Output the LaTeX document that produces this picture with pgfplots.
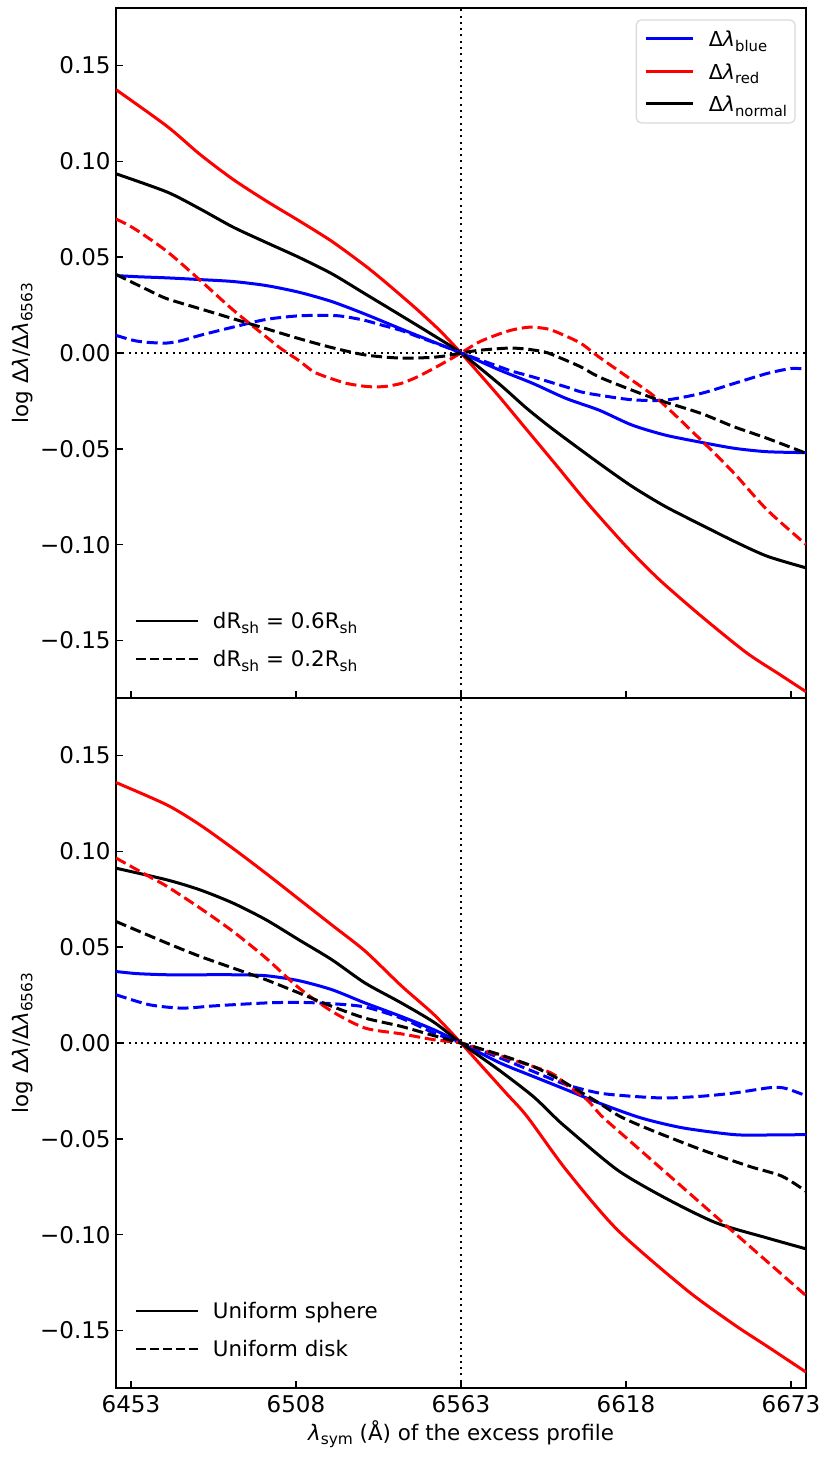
\documentclass[border=0pt]{standalone}
\usepackage{fontspec}
\setmainfont{DejaVu Sans}
\usepackage{pgfplots}
\pgfplotsset{compat=1.18}
\newcommand{\lam}{\textit{λ}}
\newcommand{\sub}[1]{\raisebox{-0.2em}{\scalebox{0.72}{#1}}}

\pgfplotsset{
  panel/.style={
    scale only axis, width=345pt, height=345pt,
    xmin=6448, xmax=6678, ymin=-0.18, ymax=0.18,
    xtick={6453,6508,6563,6618,6673},
    ytick={-0.15,-0.1,-0.05,0,0.05,0.1,0.15},
    yticklabels={−0.15,−0.10,−0.05,0.00,0.05,0.10,0.15},
    tick align=inside, tick pos=left,
    major tick length=3.4pt,
    every tick/.style={black, line width=0.8pt},
    axis line style={line width=0.6pt},
    ticklabel style={font=\fontsize{11.5}{13}\selectfont},
    yticklabel style={inner xsep=2.5pt},
    ylabel={log Δ\lam/Δ\lam\sub{6563}},
    ylabel style={at={(axis description cs:-0.1275,0.5)}, anchor=base, font=\fontsize{10.7}{12}\selectfont},
  },
  lblue/.style={blue, line width=1.5pt, smooth, tension=0.45},
  lred/.style={red, line width=1.5pt, smooth, tension=0.45},
  lblack/.style={black, line width=1.5pt, smooth, tension=0.45},
  dsh/.style={dash pattern=on 5.5pt off 2.4pt},
  refline/.style={black, line width=1pt, dash pattern=on 1pt off 2.15pt, forget plot},
  leg2/.style={
    scale only axis, width=345pt, height=345pt, hide axis,
    xmin=0, xmax=1, ymin=0, ymax=1,
    legend style={at={(axis description cs:0,0)}, anchor=south west, draw=none, fill=none,
      inner xsep=9.5pt, inner ysep=15.35pt, row sep=11pt,
      font=\fontsize{10.7}{12}\selectfont,
      nodes={inner sep=0pt, text height=8pt, text depth=0pt}, cells={anchor=west}},
    legend image code/.code={\draw[##1] (0pt,0pt) -- (31pt,0pt); \path[draw=none,fill=none] (0pt,0pt) -- (38.3pt,0pt);},
  },
}

\begin{document}
\begin{tikzpicture}
% ---------------- top panel ----------------
\begin{axis}[panel, at={(0pt,345pt)}, anchor=south west, xticklabels={},
  legend style={at={(axis description cs:0.985,0.9836)}, anchor=north east,
    draw=black!15, line width=0.6pt, rounded corners=2.5pt, fill=white,
    inner xsep=4pt, inner ysep=5.5pt, row sep=8.25pt,
    font=\fontsize{10.3}{12}\selectfont,
    nodes={inner sep=0pt, text height=8pt, text depth=0pt}, cells={anchor=west}},
  legend image code/.code={\draw[#1] (0pt,0pt) -- (23.5pt,0pt); \path[draw=none,fill=none] (0pt,0pt) -- (31.5pt,0pt);},
]
\addplot[refline] coordinates {(6448,0) (6678,0)};
\addplot[refline] coordinates {(6563,-0.18) (6563,0.18)};

\addplot[lblue] coordinates {(6448,0.0404) (6455,0.0398) (6465,0.0392) (6476,0.0383) (6487,0.0373) (6498,0.0352) (6509,0.0317) (6520,0.0268) (6531,0.0203) (6542,0.0132) (6553,0.0063) (6563,0) (6576,-0.0090) (6587,-0.0159) (6598,-0.0237) (6609,-0.0298) (6620,-0.0376) (6631,-0.0428) (6642,-0.0463) (6654,-0.0497) (6665,-0.0515) (6678,-0.0520)};
\addlegendentry{Δ\lam\sub{blue}}
\addplot[lred] coordinates {(6448,0.1374) (6465,0.1183) (6476,0.1036) (6487,0.0906) (6498,0.0794) (6509,0.0690) (6520,0.0582) (6531,0.0456) (6537,0.0380) (6543,0.0300) (6549,0.0218) (6556,0.0116) (6563,0) (6575,-0.0214) (6585,-0.0402) (6595,-0.0590) (6605,-0.0780) (6618,-0.1008) (6629,-0.1181) (6643,-0.1372) (6658,-0.1562) (6669,-0.1675) (6678,-0.1767)};
\addlegendentry{Δ\lam\sub{red}}
\addplot[lblack] coordinates {(6448,0.0935) (6465,0.0840) (6476,0.0752) (6487,0.0657) (6498,0.0577) (6509,0.0499) (6520,0.0413) (6531,0.0309) (6542,0.0205) (6553,0.0100) (6563,0) (6576,-0.0165) (6585,-0.0290) (6594,-0.0402) (6609,-0.0575) (6620,-0.0696) (6631,-0.0800) (6643,-0.0896) (6654,-0.0982) (6665,-0.1060) (6678,-0.1121)};
\addlegendentry{Δ\lam\sub{normal}}

\addplot[lblue, dsh, forget plot] coordinates {(6448,0.0092) (6454,0.0065) (6459,0.0055) (6465,0.0052) (6470,0.0065) (6476,0.0092) (6487,0.0135) (6498,0.0175) (6509,0.0194) (6520,0.0196) (6525,0.0188) (6531,0.0170) (6536,0.0148) (6543,0.0118) (6549,0.0083) (6558,0.0031) (6563,0) (6576,-0.0073) (6580,-0.0095) (6587,-0.0125) (6598,-0.0177) (6603,-0.0203) (6609,-0.0220) (6620,-0.0244) (6631,-0.0246) (6643,-0.0211) (6654,-0.0159) (6665,-0.0107) (6673,-0.0081) (6678,-0.0084)};
\addplot[lred, dsh, forget plot] coordinates {(6448,0.0699) (6454,0.0650) (6465,0.0530) (6476,0.0380) (6487,0.0225) (6498,0.0085) (6503,0.0023) (6509,-0.0040) (6514,-0.0099) (6520,-0.0135) (6525,-0.0159) (6530,-0.0172) (6534,-0.0177) (6538,-0.0174) (6543,-0.0159) (6548,-0.0128) (6553,-0.0088) (6558,-0.0045) (6563,0) (6569,0.0057) (6575,0.0095) (6580,0.0120) (6586,0.0135) (6592,0.0125) (6597,0.0095) (6603,0.0050) (6609,-0.0021) (6620,-0.0142) (6629,-0.0246) (6643,-0.0454) (6654,-0.0627) (6665,-0.0818) (6678,-0.0999)};
\addplot[lblack, dsh, forget plot] coordinates {(6448,0.0410) (6459,0.0326) (6465,0.0283) (6476,0.0231) (6487,0.0179) (6498,0.0127) (6509,0.0075) (6520,0.0028) (6531,-0.0010) (6542,-0.0026) (6552,-0.0024) (6558,-0.0015) (6563,0) (6569,0.0014) (6576,0.0023) (6580,0.0026) (6585,0.0020) (6591,0.0005) (6596,-0.0025) (6603,-0.0073) (6609,-0.0125) (6620,-0.0194) (6629,-0.0246) (6643,-0.0315) (6654,-0.0385) (6665,-0.0445) (6678,-0.0523)};
\end{axis}

\begin{axis}[leg2, at={(0pt,345pt)}, anchor=south west]
\addlegendimage{black, line width=1pt}
\addlegendentry{dR\sub{sh} = 0.6R\sub{sh}}
\addlegendimage{black, line width=1pt, dash pattern=on 4.6pt off 2pt}
\addlegendentry{dR\sub{sh} = 0.2R\sub{sh}}
\end{axis}

% ---------------- bottom panel ----------------
\begin{axis}[panel, at={(0pt,0pt)}, anchor=south west,
  xticklabels={6453,6508,6563,6618,6673},
  xlabel={\lam\sub{sym} (Å) of the excess profile},
  xlabel style={at={(axis description cs:0.5,0)}, anchor=base, yshift=-26.3pt, font=\fontsize{10.7}{12}\selectfont},
]
\addplot[refline] coordinates {(6448,0) (6678,0)};
\addplot[refline] coordinates {(6563,-0.18) (6563,0.18)};

\addplot[lblue] coordinates {(6448,0.0373) (6455,0.0362) (6465,0.0356) (6476,0.0356) (6487,0.0356) (6498,0.0351) (6509,0.0325) (6520,0.0278) (6531,0.0209) (6543,0.0139) (6554,0.0069) (6563,0) (6576,-0.0104) (6587,-0.0174) (6598,-0.0243) (6609,-0.0313) (6623,-0.0391) (6637,-0.0443) (6654,-0.0478) (6665,-0.0480) (6678,-0.0478)};
\addplot[lred] coordinates {(6448,0.1359) (6465,0.1242) (6476,0.1138) (6487,0.1015) (6498,0.0885) (6509,0.0750) (6520,0.0615) (6531,0.0480) (6543,0.0300) (6554,0.0148) (6563,0) (6570,-0.0122) (6578,-0.0261) (6585,-0.0383) (6598,-0.0661) (6615,-0.0973) (6638,-0.1286) (6654,-0.1469) (6665,-0.1582) (6678,-0.1717)};
\addplot[lblack] coordinates {(6448,0.0912) (6465,0.0851) (6476,0.0799) (6487,0.0730) (6498,0.0643) (6509,0.0538) (6520,0.0434) (6531,0.0313) (6543,0.0210) (6554,0.0108) (6563,0) (6576,-0.0145) (6587,-0.0278) (6594,-0.0383) (6598,-0.0440) (6615,-0.0661) (6631,-0.0808) (6648,-0.0938) (6665,-0.1017) (6678,-0.1074)};

\addplot[lblue, dsh] coordinates {(6448,0.0252) (6459,0.0200) (6470,0.0182) (6481,0.0194) (6498,0.0209) (6509,0.0212) (6520,0.0205) (6531,0.0188) (6543,0.0130) (6554,0.0052) (6563,0) (6576,-0.0078) (6587,-0.0148) (6598,-0.0217) (6609,-0.0261) (6620,-0.0278) (6631,-0.0287) (6643,-0.0278) (6654,-0.0261) (6666,-0.0233) (6671,-0.0236) (6678,-0.0275)};
\addplot[lred, dsh] coordinates {(6448,0.0965) (6459,0.0869) (6465,0.0817) (6476,0.0704) (6487,0.0582) (6498,0.0443) (6509,0.0287) (6520,0.0165) (6531,0.0078) (6543,0.0048) (6554,0.0017) (6563,0) (6570,-0.0035) (6580,-0.0087) (6593,-0.0156) (6598,-0.0217) (6605,-0.0296) (6610,-0.0383) (6620,-0.0521) (6640,-0.0796) (6660,-0.1071) (6678,-0.1318)};
\addplot[lblack, dsh] coordinates {(6448,0.0634) (6465,0.0521) (6476,0.0452) (6487,0.0391) (6498,0.0330) (6509,0.0261) (6520,0.0191) (6531,0.0130) (6543,0.0087) (6554,0.0038) (6563,0) (6576,-0.0061) (6587,-0.0122) (6596,-0.0191) (6598,-0.0210) (6609,-0.0313) (6616,-0.0383) (6626,-0.0452) (6643,-0.0556) (6659,-0.0643) (6670,-0.0695) (6678,-0.0774)};
\end{axis}

\begin{axis}[leg2, at={(0pt,0pt)}, anchor=south west]
\addlegendimage{black, line width=1pt}
\addlegendentry{Uniform sphere}
\addlegendimage{black, line width=1pt, dash pattern=on 4.6pt off 2pt}
\addlegendentry{Uniform disk}
\end{axis}

\pgfresetboundingbox
\path[use as bounding box] (-58pt,-34.5pt) rectangle (357.5pt,694pt);
\end{tikzpicture}
\end{document}
